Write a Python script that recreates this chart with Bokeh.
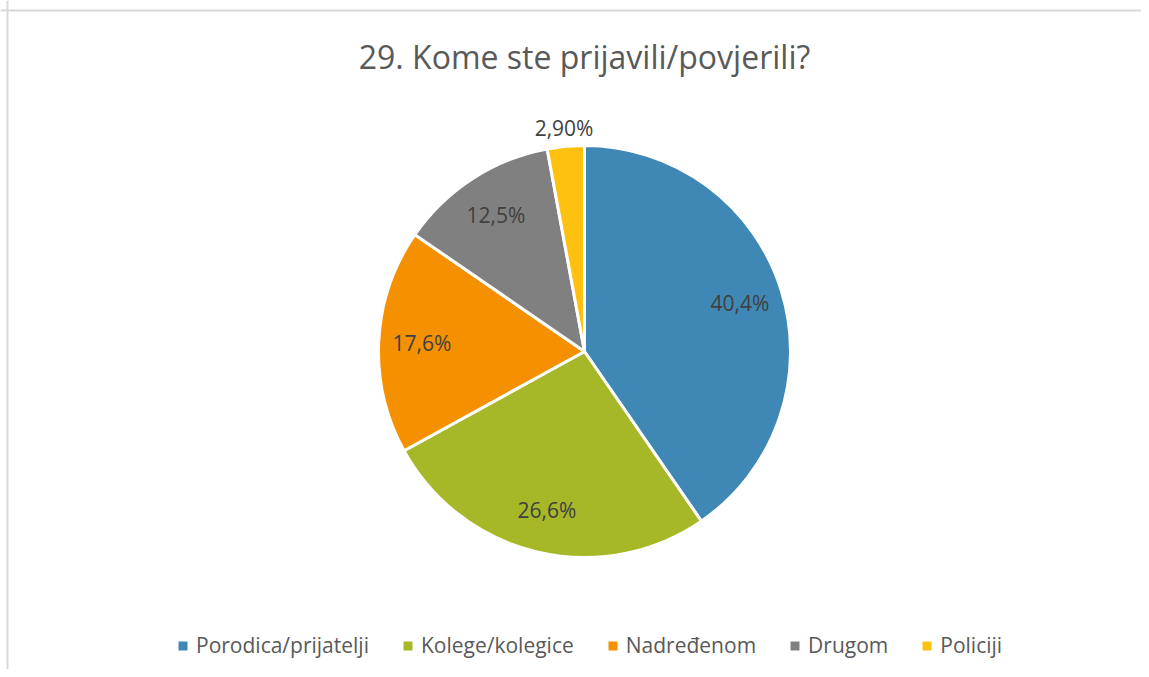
import math
from bokeh.plotting import figure
from bokeh.models import ColumnDataSource, Range1d, Span, Legend, LegendItem
from bokeh.core.properties import value
from bokeh.embed import file_html
from bokeh.resources import INLINE

# ---- data ----
categories = ["Porodica/prijatelji", "Kolege/kolegice", "Nadređenom", "Drugom", "Policiji"]
shares = [40.4, 26.6, 17.6, 12.5, 2.9]
labels = ["40,4%", "26,6%", "17,6%", "12,5%", "2,90%"]
colors = ["#3f88b5", "#a6b828", "#f59100", "#808080", "#fec110"]
title_text = "29. Kome ste prijavili/povjerili?"

W, H = 1141, 669
FONT = "Open Sans"

p = figure(width=W, height=H, output_backend="svg", toolbar_location=None,
           x_range=Range1d(0, W), y_range=Range1d(0, H), min_border=0,
           tools="")
p.axis.visible = False
p.xgrid.visible = False
p.ygrid.visible = False
p.outline_line_color = None
p.background_fill_color = "white"
p.border_fill_color = "white"

# frame border (top and left edges)
p.add_layout(Span(location=7, dimension="height", line_color="#d9d9d9", line_width=2))
p.add_layout(Span(location=H - 10, dimension="width", line_color="#d9d9d9", line_width=2))

cx, cy, R = 584, H - 351, 206
total = sum(shares)
starts, ends, lx, ly = [], [], [], []
cum = 0.0
for s in shares:
    a0 = math.pi / 2 - 2 * math.pi * cum / total
    cum += s
    a1 = math.pi / 2 - 2 * math.pi * cum / total
    starts.append(a0)
    ends.append(a1)
    mid = (a0 + a1) / 2
    rf = 0.79 if s / total > 0.05 else 1.09
    lx.append(cx + rf * R * math.cos(mid))
    ly.append(cy + rf * R * math.sin(mid))

src = ColumnDataSource(dict(cat=categories, start=starts, end=ends, color=colors,
                            label=labels, lx=lx, ly=ly,
                            x=[cx] * len(shares), y=[cy] * len(shares)))

r = p.wedge(x="x", y="y", radius=R, radius_units="screen", start_angle="start",
            end_angle="end", direction="clock", fill_color="color",
            line_color="white", line_width=3, source=src)

p.text(x="lx", y="ly", text="label", source=src, text_align="center",
       text_baseline="middle", text_font=value(FONT), text_font_size="21px",
       text_color="#404040")

p.text(x=[cx], y=[H - 56], text=[title_text], text_align="center",
       text_baseline="middle", text_font=value(FONT), text_font_size="32px",
       text_color="#595959")

items = [LegendItem(label=c, renderers=[r], index=i) for i, c in enumerate(categories)]
legend = Legend(items=items, orientation="horizontal", location=(175, 10),
                glyph_width=15, glyph_height=15, label_standoff=6, spacing=31,
                padding=0, margin=0, border_line_color=None,
                background_fill_alpha=0, label_text_font=FONT,
                label_text_font_size="21px", label_text_color="#595959")
p.add_layout(legend)

open("out.html", "w").write(file_html(p, INLINE))
